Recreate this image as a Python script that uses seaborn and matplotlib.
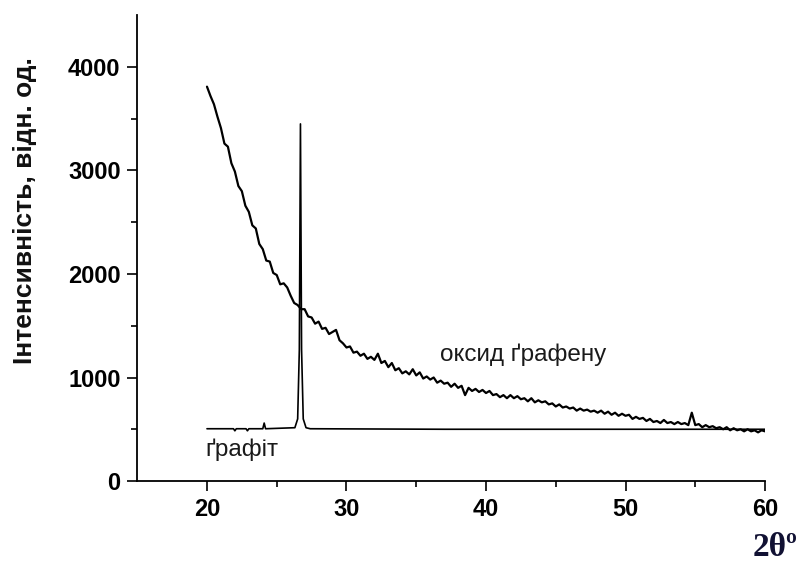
import numpy as np
import matplotlib
matplotlib.use("Agg")
import matplotlib.pyplot as plt
import seaborn as sns

# === Data ===
# graphene oxide, one value every 0.25 deg from 20 to 60 (4 per row)
go_intensity = [
    3810, 3720, 3640, 3520,   # 20
    3410, 3260, 3230, 3070,   # 21
    2990, 2850, 2800, 2660,   # 22
    2600, 2470, 2440, 2290,   # 23
    2240, 2130, 2120, 2010,   # 24
    1990, 1900, 1910, 1870,   # 25
    1790, 1720, 1700, 1660,   # 26
    1660, 1590, 1580, 1520,   # 27
    1540, 1470, 1480, 1420,   # 28
    1440, 1460, 1360, 1330,   # 29
    1290, 1300, 1240, 1250,   # 30
    1210, 1230, 1180, 1200,   # 31
    1170, 1230, 1140, 1160,   # 32
    1100, 1140, 1070, 1090,   # 33
    1040, 1060, 1030, 1080,   # 34
    1020, 1050, 990, 1010,    # 35
    980, 1000, 950, 970,      # 36
    940, 950, 910, 940,       # 37
    900, 920, 830, 900,       # 38
    870, 890, 860, 880,       # 39
    850, 870, 830, 840,       # 40
    810, 830, 800, 830,       # 41
    800, 820, 790, 800,       # 42
    770, 800, 760, 780,       # 43
    760, 770, 740, 750,       # 44
    720, 740, 710, 720,       # 45
    700, 710, 680, 700,       # 46
    680, 690, 670, 680,       # 47
    660, 680, 650, 670,       # 48
    640, 660, 630, 650,       # 49
    630, 640, 600, 620,       # 50
    600, 610, 580, 600,       # 51
    570, 580, 560, 590,       # 52
    560, 570, 550, 570,       # 53
    550, 560, 540, 660,       # 54
    540, 550, 520, 540,       # 55
    520, 530, 510, 520,       # 56
    500, 520, 490, 510,       # 57
    490, 500, 480, 500,       # 58
    480, 490, 470, 490,       # 59
    480,                      # 60
]
go_2theta = np.linspace(20, 60, len(go_intensity))

# graphite: flat background with the (002) reflection near 26.7 deg
graphite_2theta = [20.0, 21.9, 22.0, 22.1, 22.8, 22.9, 23.0, 24.0, 24.1, 24.2,
                   26.3, 26.5, 26.62, 26.7, 26.78, 26.9, 27.1, 27.4,
                   37.0, 45.0, 55.0, 60.0]
graphite_intensity = [505, 505, 485, 505, 505, 485, 505, 505, 560, 505,
                      515, 600, 1270, 3450, 1270, 600, 515, 505,
                      500, 500, 500, 500]

x_ticks = [20, 30, 40, 50, 60]
x_minor = [25, 35, 45, 55]
y_ticks = [0, 1000, 2000, 3000, 4000]
y_minor = [500, 1500, 2500, 3500]

# === Style ===
sns.set_style("ticks")
plt.rcParams["font.family"] = ["Liberation Sans", "DejaVu Sans"]

fig = plt.figure(figsize=(8.02, 5.62), dpi=100)
ax = fig.add_axes([0.1711, 0.1441, 0.7828, 0.8288])

sns.lineplot(x=graphite_2theta, y=graphite_intensity, ax=ax, color="black",
             lw=1.2, estimator=None, sort=False)
sns.lineplot(x=go_2theta, y=go_intensity, ax=ax, color="black",
             lw=1.6, estimator=None, sort=False)

ax.set_xlim(15, 60)
ax.set_ylim(0, 4500)
ax.set_xticks(x_ticks)
ax.set_xticks(x_minor, minor=True)
ax.set_yticks(y_ticks)
ax.set_yticks(y_minor, minor=True)
ax.set_xticklabels([str(v) for v in x_ticks], fontsize=17, fontweight="bold")
ax.set_yticklabels([str(v) for v in y_ticks], fontsize=17, fontweight="bold")
ax.tick_params(which="major", direction="out", length=7, width=1.2, pad=5,
               color="black", labelcolor="black")
ax.tick_params(which="minor", direction="out", length=4, width=1.2, color="black")
sns.despine(ax=ax)
for s in ["left", "bottom"]:
    ax.spines[s].set_linewidth(1.3)
    ax.spines[s].set_color("black")

# labels on curves
ax.text(36.7, 1220, "оксид ґрафену", fontsize=17.5, color="#1a1a1a", va="center")
ax.text(19.85, 300, "ґрафіт", fontsize=17.5, color="#1a1a1a", va="center")

# axis titles
fig.text(25 / 802, 1 - 211 / 562, "Інтенсивність, відн. од.", rotation=90,
         ha="center", va="center", fontsize=19, fontweight="bold", color="#111111")
fig.text(775 / 802, 1 - 547 / 562, "2θ\u00ba", ha="center", va="center",
         fontsize=24, fontweight="bold", color="#111133",
         family=["Liberation Serif", "DejaVu Serif"])

plt.savefig("out.png", dpi=100)
